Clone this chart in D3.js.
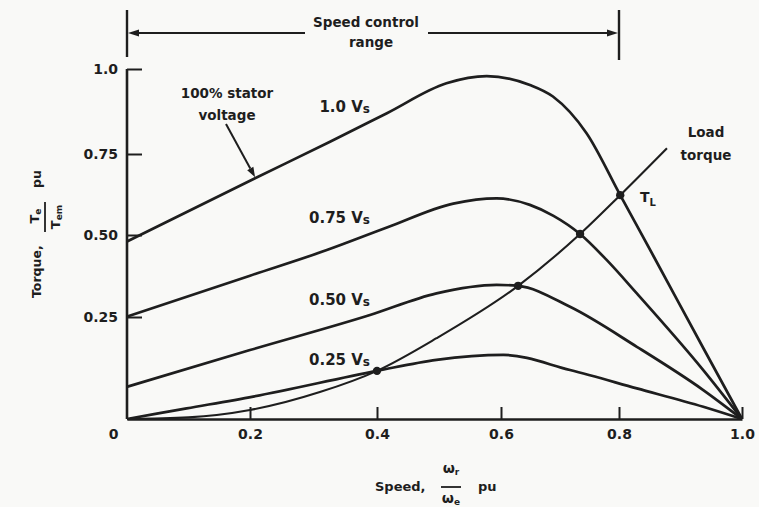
<!DOCTYPE html>
<html><head><meta charset="utf-8">
<script src="https://cdn.jsdelivr.net/npm/d3@7"></script>
<style>
body{margin:0;background:#f9f9f7;}
svg{display:block;}
text{font-family:"DejaVu Sans",sans-serif;font-weight:bold;fill:#1e1e1e;}
</style></head><body>
<svg id="chart" width="759" height="507"></svg>
<script>
// ---- data ----
const xTickValues = [0, 0.2, 0.4, 0.6, 0.8, 1.0];
const xTickLabels = ["0", "0.2", "0.4", "0.6", "0.8", "1.0"];
const yTickValues = [0.25, 0.5, 0.75, 1.0];
const yTickLabels = ["0.25", "0.50", "0.75", "1.0"];

const speedV100  = [0, 0.208, 0.326, 0.416, 0.512, 0.577, 0.649, 0.688, 0.745, 0.802, 0.856, 0.937, 1.0];
const torqueV100 = [0.48, 0.675, 0.786, 0.870, 0.958, 0.979, 0.953, 0.919, 0.811, 0.623, 0.436, 0.174, 0];

const speedV75  = [0, 0.2, 0.321, 0.416, 0.523, 0.593, 0.649, 0.689, 0.734, 0.779, 0.829, 0.937, 1.0];
const torqueV75 = [0.251, 0.376, 0.454, 0.523, 0.597, 0.613, 0.593, 0.559, 0.503, 0.424, 0.322, 0.120, 0];

const speedV50  = [0, 0.2, 0.389, 0.496, 0.593, 0.629, 0.717, 0.829, 0.937, 1.0];
const torqueV50 = [0.079, 0.169, 0.256, 0.322, 0.348, 0.345, 0.281, 0.177, 0.071, 0];

const speedV25  = [0, 0.097, 0.205, 0.4, 0.496, 0.604, 0.717, 0.829, 0.937, 1.0];
const torqueV25 = [0, 0.026, 0.055, 0.118, 0.145, 0.157, 0.120, 0.075, 0.030, 0];

const speedLoad  = [0, 0.1, 0.2, 0.31, 0.4, 0.496, 0.629, 0.734, 0.802, 0.878];
const torqueLoad = [0, 0.004, 0.022, 0.066, 0.118, 0.198, 0.345, 0.503, 0.623, 0.767];

const opSpeed  = [0.4, 0.629, 0.734, 0.802];
const opTorque = [0.118, 0.345, 0.503, 0.623];

const curveNames = ["1.0 Vs", "0.75 Vs", "0.50 Vs", "0.25 Vs"];
const speedRange = [0, 0.8];

// ---- layout ----
const svg = d3.select("#chart");
const ink = "#1e1e1e";
const x = d3.scaleLinear().domain(xTickValues).range([127, 250, 377, 501, 619, 742]);
const y = d3.scaleLinear().domain([0, 0.25, 0.5, 0.75, 1.0]).range([419, 317, 235, 154, 69]);

// axes
const xAxis = d3.axisBottom(x).tickValues(xTickValues).tickSize(-12).tickSizeOuter(0).tickPadding(10)
  .tickFormat((d, i) => xTickLabels[i]);
const gx = svg.append("g").attr("transform", `translate(0,${y(0)})`).call(xAxis);
gx.select(".domain").attr("stroke", ink).attr("stroke-width", 2.6);
gx.selectAll(".tick line").attr("stroke", ink).attr("stroke-width", 2);
gx.selectAll(".tick text").attr("font-size", 14).attr("font-family", "DejaVu Sans").attr("font-weight", "bold").attr("fill", ink);
gx.selectAll(".tick").filter(d => d === 0).select("text").attr("x", -14);
gx.selectAll(".tick").filter(d => d === 0).select("line").remove();

const yAxis = d3.axisLeft(y).tickValues(yTickValues).tickSize(-15).tickSizeOuter(0).tickPadding(9)
  .tickFormat((d, i) => yTickLabels[i]);
const gy = svg.append("g").attr("transform", `translate(${x(0)},0)`).call(yAxis);
gy.select(".domain").attr("stroke", ink).attr("stroke-width", 2.6).attr("d", `M0,${y(0)}V${y(1)}`);
gy.selectAll(".tick line").attr("stroke", ink).attr("stroke-width", 2);
gy.selectAll(".tick text").attr("font-size", 14).attr("font-family", "DejaVu Sans").attr("font-weight", "bold").attr("fill", ink);

// curves
const line = d3.line().x(d => x(d[0])).y(d => y(d[1])).curve(d3.curveMonotoneX);
const series = [
  [speedV100, torqueV100], [speedV75, torqueV75], [speedV50, torqueV50], [speedV25, torqueV25]
];
series.forEach(([s, t]) => {
  svg.append("path").attr("d", line(s.map((v, i) => [v, t[i]])))
    .attr("fill", "none").attr("stroke", ink).attr("stroke-width", 2.7).attr("stroke-linejoin", "round");
});
svg.append("path").attr("d", line(speedLoad.map((v, i) => [v, torqueLoad[i]])))
  .attr("fill", "none").attr("stroke", ink).attr("stroke-width", 2.1);

svg.selectAll("circle.op").data(opSpeed).enter().append("circle")
  .attr("cx", d => x(d)).attr("cy", (d, i) => y(opTorque[i])).attr("r", 4.2).attr("fill", ink);

// curve labels
const labelPos = [[370, 112], [370, 223], [370, 305], [370, 365]];
curveNames.forEach((n, i) => {
  const parts = n.split(" ");
  const t = svg.append("text").attr("x", labelPos[i][0]).attr("y", labelPos[i][1])
    .attr("text-anchor", "end").attr("font-size", 15);
  t.append("tspan").text(parts[0] + " V");
  t.append("tspan").attr("font-size", 12).attr("dy", 1).text("s");
});

// 100% stator voltage annotation
svg.append("text").attr("x", 227).attr("y", 98).attr("text-anchor", "middle").attr("font-size", 13.5).text("100% stator");
svg.append("text").attr("x", 227).attr("y", 120).attr("text-anchor", "middle").attr("font-size", 13.5).text("voltage");
function arrow(x1, y1, x2, y2, len, hw, sw) {
  const a = Math.atan2(y2 - y1, x2 - x1);
  const bx = x2 - len * Math.cos(a), by = y2 - len * Math.sin(a);
  svg.append("line").attr("x1", x1).attr("y1", y1).attr("x2", bx).attr("y2", by)
    .attr("stroke", ink).attr("stroke-width", sw);
  const px = -Math.sin(a) * hw, py = Math.cos(a) * hw;
  svg.append("path").attr("d", `M${x2},${y2}L${bx + px},${by + py}L${bx - px},${by - py}Z`).attr("fill", ink);
}
arrow(226, 124, x(0.208), y(0.675) - 1, 10, 3.5, 2);

// load torque labels
svg.append("text").attr("x", 706).attr("y", 137).attr("text-anchor", "middle").attr("font-size", 13.5).text("Load");
svg.append("text").attr("x", 706).attr("y", 160).attr("text-anchor", "middle").attr("font-size", 13.5).text("torque");
const tl = svg.append("text").attr("x", 640).attr("y", 202).attr("font-size", 14);
tl.append("tspan").text("T");
tl.append("tspan").attr("font-size", 10).attr("dy", 4).text("L");

// speed control range
const bx0 = x(speedRange[0]), bx1 = x(speedRange[1]);
svg.append("line").attr("x1", bx0).attr("x2", bx0).attr("y1", 10).attr("y2", 57).attr("stroke", ink).attr("stroke-width", 2.4);
svg.append("line").attr("x1", bx1).attr("x2", bx1).attr("y1", 10).attr("y2", 60).attr("stroke", ink).attr("stroke-width", 2.4);
arrow(305, 33, bx0 + 1, 33, 11, 3.5, 2);
arrow(428, 33, bx1 - 1, 33, 11, 3.5, 2);
svg.append("text").attr("x", 366).attr("y", 27).attr("text-anchor", "middle").attr("font-size", 13.5).text("Speed control");
svg.append("text").attr("x", 371).attr("y", 47).attr("text-anchor", "middle").attr("font-size", 13.5).text("range");

// x-axis title
svg.append("text").attr("x", 375).attr("y", 491).attr("font-size", 13).text("Speed,");
const xn = svg.append("text").attr("x", 451).attr("y", 473).attr("text-anchor", "middle").attr("font-size", 14);
xn.append("tspan").text("ω"); xn.append("tspan").attr("font-size", 9).attr("dy", 2).text("r");
svg.append("line").attr("x1", 441).attr("x2", 461).attr("y1", 487).attr("y2", 487).attr("stroke", ink).attr("stroke-width", 1.8);
const xd = svg.append("text").attr("x", 451).attr("y", 503).attr("text-anchor", "middle").attr("font-size", 14);
xd.append("tspan").text("ω"); xd.append("tspan").attr("font-size", 9).attr("dy", 2).text("e");
svg.append("text").attr("x", 478).attr("y", 491).attr("font-size", 13).text("pu");

// y-axis title (rotated)
svg.append("text").attr("transform", "translate(41,298) rotate(-90)").attr("font-size", 12.5).text("Torque,");
const yn = svg.append("text").attr("transform", "translate(39,216) rotate(-90)").attr("text-anchor", "middle").attr("font-size", 13);
yn.append("tspan").text("T"); yn.append("tspan").attr("font-size", 9).attr("dy", 2).text("e");
svg.append("line").attr("x1", 45).attr("x2", 45).attr("y1", 202).attr("y2", 232).attr("stroke", ink).attr("stroke-width", 1.8);
const yd = svg.append("text").attr("transform", "translate(60,217) rotate(-90)").attr("text-anchor", "middle").attr("font-size", 13);
yd.append("tspan").text("T"); yd.append("tspan").attr("font-size", 9).attr("dy", 2).text("em");
svg.append("text").attr("transform", "translate(41,188) rotate(-90)").attr("font-size", 12.5).text("pu");
</script>
</body></html>
